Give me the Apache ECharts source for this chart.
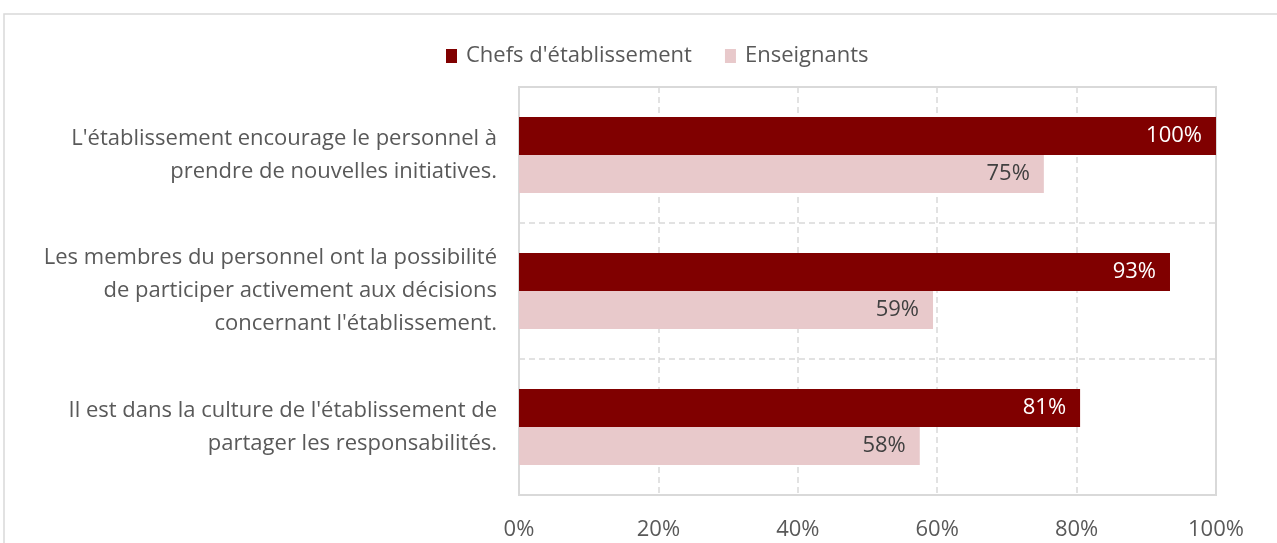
<!DOCTYPE html>
<html>
<head>
<meta charset="utf-8">
<script src="https://cdn.jsdelivr.net/npm/echarts@6/dist/echarts.min.js"></script>
<style>
  html, body { margin: 0; padding: 0; background: #fff; }
  #chart { width: 1277px; height: 543px; }
</style>
</head>
<body>
<div id="chart"></div>
<script>
// libellés des questions (de haut en bas)
const categories = [
  "L'établissement encourage le personnel à\nprendre de nouvelles initiatives.",
  "Les membres du personnel ont la possibilité\nde participer activement aux décisions\nconcernant l'établissement.",
  "Il est dans la culture de l'établissement de\npartager les responsabilités."
];
const seriesNames = ["Chefs d'établissement", 'Enseignants'];
const chefs = [100, 93.4, 80.5];
const enseignants = [75.3, 59.4, 57.5];
const xTicks = [0, 20, 40, 60, 80, 100];

const font = '"Open Sans", sans-serif';
const grey = '#595959';
const fs = 22;

const chart = echarts.init(document.getElementById('chart'));

const option = {
  animation: false,
  textStyle: { fontFamily: font },
  graphic: [
    {
      type: 'rect',
      shape: { x: 4, y: 14, width: 1300, height: 600 },
      style: { fill: 'none', stroke: '#d9d9d9', lineWidth: 1.5 },
      silent: true
    }
  ],
  legend: {
    data: seriesNames,
    top: 40,
    left: 441,
    itemWidth: 11,
    itemHeight: 14,
    itemGap: 33,
    icon: 'rect',
    textStyle: { color: grey, fontSize: fs, fontFamily: font, padding: [0, 0, 0, 4] }
  },
  grid: {
    left: 519,
    right: 61,
    top: 87,
    bottom: 48,
    show: true,
    borderColor: '#d9d9d9',
    borderWidth: 2
  },
  xAxis: {
    type: 'value',
    min: 0,
    max: 100,
    interval: 20,
    axisLine: { show: false },
    axisTick: { show: false },
    axisLabel: {
      color: grey,
      fontSize: fs,
      margin: 24,
      formatter: v => (xTicks.indexOf(v) >= 0 ? v + '%' : '')
    },
    splitLine: { lineStyle: { color: '#d9d9d9', type: [6, 4], width: 1.5 } }
  },
  yAxis: {
    type: 'category',
    data: categories,
    inverse: true,
    axisLine: { show: false },
    axisTick: { show: false },
    axisLabel: {
      color: grey,
      fontSize: fs,
      lineHeight: 33,
      margin: 22,
      align: 'right'
    },
    splitLine: { show: true, lineStyle: { color: '#d9d9d9', type: [6, 4], width: 1.5 } }
  },
  series: [
    {
      name: seriesNames[0],
      type: 'bar',
      data: chefs,
      barWidth: 38,
      barGap: '0%',
      itemStyle: { color: '#800000' },
      label: {
        show: true,
        position: 'insideRight',
        distance: 14,
        color: '#fff',
        fontSize: fs,
        formatter: p => Math.round(p.value) + '%'
      }
    },
    {
      name: seriesNames[1],
      type: 'bar',
      data: enseignants,
      barWidth: 38,
      itemStyle: { color: '#e8c9cb' },
      label: {
        show: true,
        position: 'insideRight',
        distance: 14,
        color: '#404040',
        fontSize: fs,
        formatter: p => Math.round(p.value) + '%'
      }
    }
  ]
};

chart.setOption(option);
</script>
</body>
</html>
